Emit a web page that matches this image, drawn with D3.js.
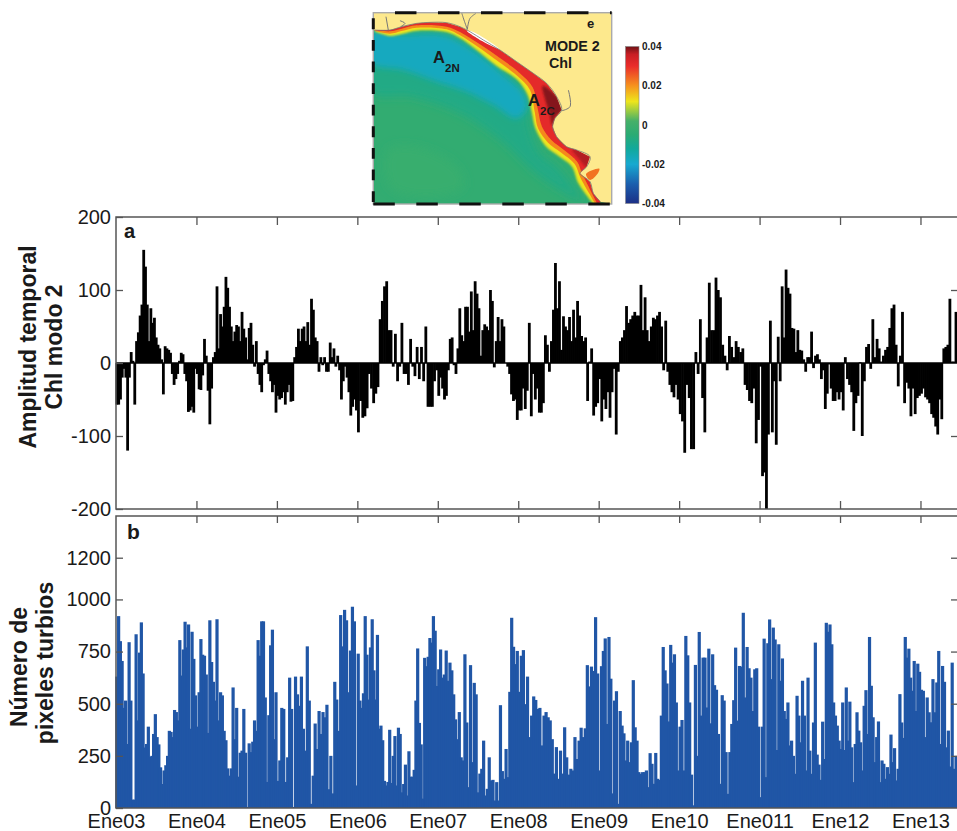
<!DOCTYPE html>
<html><head><meta charset="utf-8">
<script src="https://cdn.jsdelivr.net/npm/d3@7/dist/d3.min.js"></script>
<style>
html,body{margin:0;padding:0;background:#fff}
svg{display:block}
text{font-family:"Liberation Sans",Arial,sans-serif;fill:#1a1a1a}
</style></head><body>
<svg id="c" width="957" height="831"></svg>
<script>
// ---------- data ----------
const years=[2003,2004,2005,2006,2007,2008,2009,2010,2011,2012,2013];
const yearLabels=["Ene03","Ene04","Ene05","Ene06","Ene07","Ene08","Ene09","Ene10","Ene011","Ene12","Ene13"];
const ampTicks=[200,100,0,-100,-200];
const pixTicks=[1200,1000,750,500,250,0];
const colorTicks=[0.04,0.02,0,-0.02,-0.04];
const colorLabels=["0.04","0.02","0","-0.02","-0.04"];
const colorStops=[-0.04,-0.03,-0.02,-0.012,-0.005,0.002,0.012,0.02,0.03,0.036,0.04];
const colorValues=["#1c2f86","#1b5fae","#17a9d0","#12a99b","#2aab74","#45b069","#eee51c","#f6921e","#ea2c2a","#c81e24","#6f1216"];

const amp2003=[-57,-57,-50,-20,-8,-20,-120,-20,15,3,-57,30,42,65,80,155,132,80,30,75,55,62,35,25,20,5,-43,23,20,18,14,-15,-30,-22,-15,3,14,12,-15,-25,-67,-65,-60,-68,-8];
const amp2004=[-15,-36,-37,-17,33,10,-38,-84,-35,8,15,105,20,67,50,77,118,103,77,50,30,43,52,50,30,70,47,35,5,48,55,25,-5,30,-15,-30,-40,-3,5,17,-15,-25,-40,-30,-68];
const amp2005=[-45,-50,-48,-40,-57,-40,-30,-53,-52,8,22,47,30,47,50,30,56,25,88,73,35,30,-12,8,-3,8,-12,-12,28,8,20,-5,10,-10,-50,-25,-5,-20,-40,-72,-60,-50,-65];
const amp2006=[-95,-52,-75,-73,-62,-15,-35,-55,-42,-33,60,85,105,112,45,45,-5,40,-25,-5,55,-15,-15,-30,33,-5,-18,22,-22,22,-25,50,-60,-60,-60,-25,-10];
const amp2007=[-45,-20,-35,-50,-45,-10,33,35,-3,-15,20,75,38,30,77,77,43,98,45,112,95,75,10,45,53,50,45,100,85,-6,30,63,30,60,50,0,-5,-15,-43,-52,-50,-78];
const amp2008=[-65,-65,-35,-63,-38,55,-73,-15,-50,-35,-68,-68,-55,38,25,-12,30,73,137,75,112,18,64,50,45,63,30,73,35,85,65,37,30,35,-52,2,20,-72,-60,-55];
const amp2009=[-22,-80,-50,-63,-40,-75,-40,-8,-98,-12,30,35,45,78,55,60,65,70,65,65,107,45,90,45,30,50,62,60,65,70,50,-10,58,-12,-30,-40,-47,-30,-50];
const amp2010=[-70,-80,-123,-30,-48,-118,-118,15,-15,60,-48,-95,35,110,45,45,117,100,90,25,10,-10,37,22,8,30,22,15,20,-30,-37,-52,-55,-35,-110,-78];
const amp2011=[-5,-155,-150,-200,-98,58,-95,-25,-112,36,-25,105,35,128,103,95,48,47,15,45,18,17,5,-12,8,8,43,-7,10,12,5,-22,-10,-63,-42,-2,-35,-52,-52,-40,-50];
const amp2012=[-40,-65,8,-22,-30,-40,-93,-55,-45,1,-100,-25,22,26,-8,60,8,33,20,2,10,18,22,48,75,80,25,-32,10,70,-55,-27,-35,-73,-35,-70,-48,-45];
const amp2013=[-42,-35,-47,-50,-55,-70,-75,-87,-98,-50,-77,20,22,25,88,2,2,70];

const pix2003=[630,920,800,705,480,515,307,795,515,40,40,833,420,745,890,645,290,307,390,245,250,355,450,340,305,195,115,180,205,250,370,365,340,470,460,420,805,635,760,893,770,880,380,845,715,540];
const pix2004=[390,555,810,735,730,640,360,900,700,605,515,905,420,555,540,370,325,190,155,190,578,330,480,150,265,275,475,265,5,310,268,318,420,370,805,730,895,895,530,125,445,780,855,330,555];
const pix2005=[130,228,480,475,125,243,625,475,5,630,545,490,630,380,275,775,515,20,155,405,283,465,355,460,435,495,90,250,70,605,520,370,925,775,950,900,555,755,965,895,108];
const pix2006=[740,515,480,550,920,735,520,770,905,660,520,830,380,395,325,130,108,125,375,120,250,345,108,385,355,75,115,208,60,272,150,150,183,515,765,408,305,45,720,680,725,815,793,920,850,585];
const pix2007=[665,760,625,640,755,610,697,660,545,425,330,460,243,228,737,410,100,685,220,600,545,75,165,188,323,60,92,243,132,135,36,124,36,493,177,140,283,148,557,912,773,690,753];
const pix2008=[557,730,757,498,630,340,443,535,518,475,480,300,443,460,435,420,330,165,292,140,275,165,387,243,160,188,180,340,235,323,385,340,382,685,583,678,657,915,645];
const pix2009=[180,680,753,813,403,820,620,70,515,560,20,465,395,358,228,323,220,315,613,387,323,172,164,172,172,180,100,263,212,116,264,140,135,443,772,660,597,415,782,697,737,506,180];
const pix2010=[390,422,180,825,732,506,160,13,686,250,844,443,721,721,482,764,406,737,589,567,355,116,541,515,268,68,268,403,517,769,419,681,678,936,530,772,670,625,465,665,670,390];
const pix2011=[52,390,812,148,790,904,618,865,808,278,785,610,717,465,427,506,300,323,250,164,538,443,315,610,443,180,625,275,164,410,793,256,208,135,414,235,888,845,880,785,506,443,395,323];
const pix2012=[283,506,278,578,323,510,291,124,307,459,371,315,180,490,565,355,820,586,435,220,340,415,124,228,212,140,196,164,352,220,287,132,188,546,410,336,820,721,764,625,562,705,465,692,653];
const pix2013=[567,562,340,530,459,411,618,459,602,753,307,681,605,291,371,199,697,188,250];

const ampByYear=[amp2003,amp2004,amp2005,amp2006,amp2007,amp2008,amp2009,amp2010,amp2011,amp2012,amp2013];
const pixByYear=[pix2003,pix2004,pix2005,pix2006,pix2007,pix2008,pix2009,pix2010,pix2011,pix2012,pix2013];

// map geometry, in map units
const coast=[[44,90],[90,90],[125,80],[170,70],[210,67],[260,68],[300,80],[330,95],[370,120],[420,150],[470,185],[520,220],[560,250],[590,290],[605,330],[585,355],[578,380],[590,410],[620,440],[650,450],[690,470],[680,500],[660,520],[690,545],[700,580],[722,606]];
const bandYellow=[[44,94],[90,108],[125,102],[170,92],[260,96],[300,114],[345,146],[410,198],[470,238],[503,285],[516,340],[526,385],[556,437],[596,468],[636,500],[655,550],[700,612]];
const bandOrange=[[44,92],[90,101],[125,93],[170,83],[260,88],[300,106],[350,138],[418,187],[472,228],[510,270],[524,335],[534,385],[564,428],[604,458],[644,492],[662,535],[706,612]];
const bandRed=[[44,90],[90,94],[125,86],[170,76],[260,80],[300,96],[355,130],[425,178],[478,218],[518,262],[534,330],[546,380],[574,420],[612,450],[652,486],[666,520],[712,612]];
const darkCore=[[548,258],[590,290],[605,330],[585,350],[576,376],[570,345],[556,300]];
const darkCore2=[[636,448],[690,470],[680,500],[658,478]];
const blueZone=[[36,100],[125,105],[250,105],[330,145],[420,215],[490,280],[500,325],[470,355],[400,315],[320,275],[230,245],[130,210],[36,190]];
const tealZone=[[36,98],[300,120],[420,205],[500,290],[510,380],[540,460],[590,500],[640,560],[670,606],[540,530],[420,420],[300,340],[150,290],[36,280]];
const lightPatch=[[85,450],[170,440],[290,500],[310,560],[200,590],[90,560]];
const orangeBlob=[[678,522],[718,506],[712,522],[690,540]];
const riverA=[[305,38],[312,60],[322,88]];
const riverB=[[348,40],[330,55],[322,88]];
const riverC=[[625,270],[630,320],[606,332]];
const riverD=[[78,50],[85,90]];
const riverE=[[120,62],[135,70],[122,80]];
const whiteSliver=[[320,92],[345,98],[420,148],[370,125]];

// ---------- layout ----------
const svg=d3.select("#c");
const left=116,right=957,topA=217,botA=509,topB=516,botB=808;
const x=d3.scaleLinear().domain([2003,2013.454]).range([left,right]);
const yA=d3.scaleLinear().domain([-200,200]).range([botA,topA]);
const yB=d3.scaleLinear().domain([0,1400]).range([botB,topB]);
const axisColor="#555";
const barWA=2.8, barWB=3.2;

function barsFor(arrs){
  const out=[];
  arrs.forEach((vals,k)=>{
    const span=Math.min(1,x.domain()[1]-years[k]);
    vals.forEach((v,i)=>out.push({t:years[k]+span*(i+0.5)/vals.length,v}));
  });
  return out;
}
function frame(g,y0,y1){
  g.append("path").attr("d",`M${right},${y0}H${left}V${y1}H${right}`)
   .attr("fill","none").attr("stroke",axisColor).attr("stroke-width",1.5);
}
function style(ax,fs){
  ax.select(".domain").remove();
  ax.selectAll("line").attr("stroke",axisColor).attr("stroke-width",1.3);
  ax.selectAll("text").attr("font-size",fs).attr("fill","#1a1a1a");
}
// panel a
const ga=svg.append("g");
ga.selectAll("rect").data(barsFor(ampByYear)).join("rect")
  .attr("x",d=>x(d.t)-barWA/2).attr("width",barWA)
  .attr("y",d=>Math.min(yA(d.v),yA(0))).attr("height",d=>Math.abs(yA(d.v)-yA(0)))
  .attr("fill","#000");
ga.append("line").attr("x1",left).attr("x2",right).attr("y1",yA(0)).attr("y2",yA(0)).attr("stroke","#000").attr("stroke-width",1.6);
frame(ga,topA,botA);
const tickFmt=d=>d;
ga.append("g").attr("transform",`translate(${left},0)`)
  .call(d3.axisLeft(yA).tickValues(ampTicks).tickFormat(tickFmt).tickSize(-7).tickPadding(5)).call(style,20);
ga.append("g").attr("transform",`translate(${right},0)`)
  .call(d3.axisRight(yA).tickValues([100,-100]).tickFormat("").tickSize(-6)).call(style,20);
ga.append("g").attr("transform",`translate(0,${botA})`)
  .call(d3.axisBottom(x).tickValues(years.slice(1)).tickFormat("").tickSize(-8)).call(style,20);
ga.append("g").attr("transform",`translate(0,${topA})`)
  .call(d3.axisTop(x).tickValues(years.slice(1)).tickFormat("").tickSize(-8)).call(style,20);
// panel b
const gb=svg.append("g");
gb.selectAll("rect").data(barsFor(pixByYear)).join("rect")
  .attr("x",d=>x(d.t)-barWB/2).attr("width",barWB)
  .attr("y",d=>yB(d.v)).attr("height",d=>yB(0)-yB(d.v))
  .attr("fill","#2056a6");
frame(gb,topB,botB);
gb.append("g").attr("transform",`translate(${left},0)`)
  .call(d3.axisLeft(yB).tickValues(pixTicks).tickFormat(tickFmt).tickSize(-7).tickPadding(5)).call(style,20);
gb.append("g").attr("transform",`translate(${right},0)`)
  .call(d3.axisRight(yB).tickValues(pixTicks.slice(0,5)).tickFormat("").tickSize(-6)).call(style,20);
gb.append("g").attr("transform",`translate(0,${topB})`)
  .call(d3.axisTop(x).tickValues(years.slice(1)).tickFormat("").tickSize(-7)).call(style,20);
gb.append("g").attr("transform",`translate(0,${botB})`)
  .call(d3.axisBottom(x).tickValues(years).tickFormat((d,i)=>yearLabels[i]).tickSize(0).tickPadding(6)).call(style,20);

// titles
function vtitle(tx,ty,s){
  svg.append("text").attr("transform",`translate(${tx},${ty}) rotate(-90)`)
    .attr("text-anchor","middle").attr("font-size",23).attr("font-weight","bold").attr("fill","#111").text(s);
}
vtitle(36,347,"Amplitud temporal");
vtitle(62,347,"Chl modo 2");
vtitle(27,667,"Número de");
vtitle(53,663,"pixeles turbios");
svg.append("text").attr("x",124).attr("y",238).attr("font-size",20).attr("font-weight","bold").attr("fill","#111").text("a");
svg.append("text").attr("x",127).attr("y",539).attr("font-size",21).attr("font-weight","bold").attr("fill","#111").text("b");

// ---------- map ----------
const mx=d3.scaleLinear().domain([40,755]).range([373.3,611.7]);
const my=d3.scaleLinear().domain([38,612]).range([12.7,204]);
const color=d3.scaleLinear().domain(colorStops).range(colorValues);
const smooth=d3.line().x(d=>mx(d[0])).y(d=>my(d[1])).curve(d3.curveCatmullRom.alpha(0.5));
const closed=d3.line().x(d=>mx(d[0])).y(d=>my(d[1])).curve(d3.curveCatmullRomClosed.alpha(0.5));
const poly=d3.line().x(d=>mx(d[0])).y(d=>my(d[1]));
const defs=svg.append("defs");
defs.append("clipPath").attr("id","mapclip").append("rect")
  .attr("x",mx(40)).attr("y",my(38)).attr("width",mx(755)-mx(40)).attr("height",my(612)-my(38));
const blur=(id,s)=>{defs.append("filter").attr("id",id).attr("x","-20%").attr("y","-20%").attr("width","140%").attr("height","140%").append("feGaussianBlur").attr("stdDeviation",s);return `url(#${id})`;};
const bWide=blur("bw",5),bMid=blur("bm",3),b2=blur("b2",1.2),b1=blur("b1",0.7);
const gm=svg.append("g").attr("clip-path","url(#mapclip)");
gm.append("rect").attr("x",mx(40)).attr("y",my(38)).attr("width",mx(755)-mx(40)).attr("height",my(612)-my(38)).attr("fill",color(-0.003));
gm.append("path").attr("d",closed(lightPatch)).attr("fill",color(-0.001)).attr("filter",bWide);
gm.append("path").attr("d",closed(tealZone)).attr("fill",color(-0.008)).attr("filter",bWide);
gm.append("path").attr("d",closed(blueZone)).attr("fill",color(-0.0175)).attr("filter",bMid);
const toBand=b=>smooth(b)+"L"+coast.slice().reverse().map(p=>mx(p[0])+","+my(p[1])).join("L")+"Z";
gm.append("path").attr("d",toBand(bandYellow)).attr("fill",color(0.012)).attr("filter",b2);
gm.append("path").attr("d",toBand(bandOrange)).attr("fill",color(0.021)).attr("filter",b1);
gm.append("path").attr("d",toBand(bandRed)).attr("fill",color(0.031)).attr("filter",b1);
gm.append("path").attr("d",closed(darkCore)).attr("fill",color(0.039)).attr("filter",b2);
gm.append("path").attr("d",closed(darkCore2)).attr("fill",color(0.037)).attr("filter",b2);
// land
const land=coast.concat([[755,612],[755,38],[40,38],[40,90]]);
gm.append("path").attr("d",poly(land)+"Z").attr("fill","#fde98d");
gm.append("path").attr("d",closed(whiteSliver)).attr("fill","#fff");
gm.append("path").attr("d",closed(orangeBlob)).attr("fill",color(0.023));
gm.append("path").attr("d",smooth(coast)).attr("fill","none").attr("stroke","#777").attr("stroke-width",0.8);
[riverA,riverB,riverC,riverD,riverE].forEach(r=>gm.append("path").attr("d",smooth(r)).attr("fill","none").attr("stroke","#777").attr("stroke-width",1));
// map frame: alternating ticks
const fg=svg.append("g");
fg.append("rect").attr("x",mx(40)).attr("y",my(38)).attr("width",mx(755)-mx(40)).attr("height",my(612)-my(38)).attr("fill","none").attr("stroke","#aaa").attr("stroke-width",1.4);
const dash=(x1,y1,x2,y2,d)=>fg.append("line").attr("x1",x1).attr("y1",y1).attr("x2",x2).attr("y2",y2)
  .attr("stroke","#111").attr("stroke-width",3).attr("stroke-dasharray",d+" "+d);
dash(mx(105),my(38),mx(755),my(38),21.5);
dash(mx(40),my(55),mx(40),my(612),10.8);
dash(mx(40),my(612),mx(755),my(612),21.5);
// map text
const mt=(tx,ty,s,fs,a)=>fg.append("text").attr("x",tx).attr("y",ty).attr("font-size",fs).attr("font-weight","bold").attr("text-anchor",a||"start").attr("fill","#111").text(s);
mt(587,28,"e",13);
mt(545,51,"MODE 2",14.3);
mt(549,68,"Chl",14.3);
mt(433,63,"A",16.5); mt(445,72,"2N",11.5);
mt(528,106,"A",16.5); mt(540,115,"2C",11.5);
// colour bar
const cbx=625.5,cbw=13.5;
const cb=d3.scaleLinear().domain([-0.04,0.04]).range([203.5,46.5]);
const grad=defs.append("linearGradient").attr("id","cbg").attr("x1",0).attr("x2",0).attr("y1",1).attr("y2",0);
colorStops.forEach((s,i)=>grad.append("stop").attr("offset",(s+0.04)/0.08).attr("stop-color",colorValues[i]));
fg.append("rect").attr("x",cbx).attr("y",cb(0.04)).attr("width",cbw).attr("height",cb(-0.04)-cb(0.04)).attr("fill","url(#cbg)").attr("stroke","#888").attr("stroke-width",0.6);
colorTicks.forEach((t,i)=>mt(642,cb(t)+3.5,colorLabels[i],10));
</script>
</body></html>
